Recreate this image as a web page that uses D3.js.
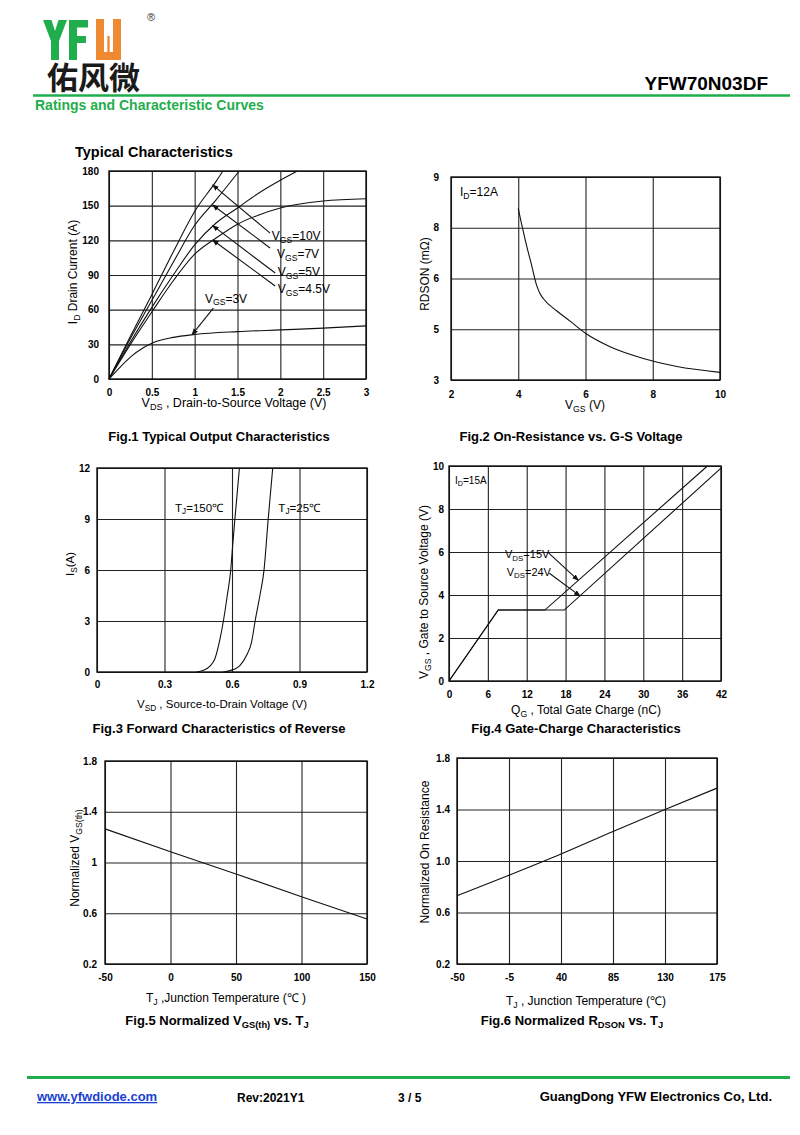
<!DOCTYPE html>
<html>
<head>
<meta charset="utf-8">
<script src="https://cdn.jsdelivr.net/npm/d3@7"></script>
<style>
  body { margin: 0; background: #fff; }
  svg { display: block; font-family: "Liberation Sans", Arial, sans-serif; }
</style>
</head>
<body>
<svg id="page" width="800" height="1135"></svg>
<script>
// Fig.1 output characteristics, [Vds (V), Id (A)]
const out10V = [[0,0],[0.25,37],[0.5,73],[0.75,110],[1.0,145],[1.25,171],[1.33,180]];
const out7V = [[0,0],[0.25,35],[0.5,68],[0.75,101],[1.0,133],[1.25,155],[1.52,180]];
const out5V = [[0,0],[0.25,32],[0.5,62],[0.75,90],[1.0,116],[1.25,135],[1.5,148],[1.75,161],[2.0,172],[2.2,180]];
const out45V = [[0,0],[0.25,30],[0.5,58],[0.75,85],[1.0,108],[1.25,122],[1.5,134],[1.75,142],[2.0,148],[2.5,154],[3.0,156]];
const out3V = [[0,0],[0.1,8],[0.25,19],[0.4,27],[0.5,31],[0.75,36],[1.0,38.5],[1.5,41],[2.0,42.5],[2.5,44],[3.0,46]];
const outTicksX = [0, 0.5, 1, 1.5, 2, 2.5, 3];
const outTicksY = [0, 30, 60, 90, 120, 150, 180];

// Fig.2 on-resistance vs Vgs (y axis in the sheet is not linear: 3,5,6,8,9 evenly spaced)
const rdsVgs = [4, 4.1, 4.25, 4.4, 4.55, 4.65, 4.75, 5.15, 5.54, 6.01, 6.73, 7.72, 8.72, 10];
const rdsVal = [8.38, 8.07, 7.29, 6.51, 5.86, 5.7, 5.6, 5.36, 5.16, 4.83, 4.31, 3.85, 3.53, 3.3];
const rdsTicksX = [2, 4, 6, 8, 10];
const rdsTicksY = [3, 5, 6, 8, 9];

// Fig.3 body diode forward, [Vsd (V), Is (A)]
const rev150 = [[0.443,0],[0.473,0.1],[0.502,0.35],[0.524,0.78],[0.547,1.96],[0.561,2.94],[0.579,4.5],[0.594,5.96],[0.603,7.45],[0.613,9.02],[0.633,12]];
const rev25 = [[0.561,0],[0.606,0.14],[0.636,0.39],[0.665,0.98],[0.687,1.76],[0.702,2.94],[0.724,4.5],[0.742,5.96],[0.761,9.02],[0.781,12]];
const revTicksX = [0, 0.3, 0.6, 0.9, 1.2];
const revTicksY = [0, 3, 6, 9, 12];

// Fig.4 gate charge, [Qg (nC), Vgs (V)]
const gate15V = [[0,0],[7.6,3.3],[14.8,3.3],[39.9,10]];
const gate24V = [[0,0],[7.6,3.3],[17.8,3.3],[42,9.9]];
const gateTicksX = [0, 6, 12, 18, 24, 30, 36, 42];
const gateTicksY = [0, 2, 4, 6, 8, 10];

// Fig.5 normalized Vgs(th)
const vthTemp = [-50, 0, 50, 100, 150];
const vthNorm = [1.265, 1.085, 0.91, 0.73, 0.555];
const vthTicksX = [-50, 0, 50, 100, 150];
const vthTicksY = [0.2, 0.6, 1, 1.4, 1.8];

// Fig.6 normalized Rds(on)
const ronTemp = [-50, -5, 40, 85, 130, 175];
const ronNorm = [0.73, 0.89, 1.055, 1.23, 1.4, 1.566];
const ronTicksX = [-50, -5, 40, 85, 130, 175];
const ronTicksY = [0.2, 0.6, 1.0, 1.4, 1.8];

const GREEN = "#1fae4b", ORANGE = "#f08a32", INK = "#111";
const svg = d3.select("#page");

const defs = svg.append("defs");
defs.append("marker")
  .attr("id", "ah")
  .attr("viewBox", "0 0 10 10")
  .attr("refX", 9)
  .attr("refY", 5)
  .attr("markerWidth", 6)
  .attr("markerHeight", 6)
  .attr("orient", "auto")
  .append("path")
  .attr("d", "M0,1L10,5L0,9z")
  .attr("fill", INK);

// text with optional subscripts: parts are strings or [subscript]
function rich(g, parts, x, y, fs, opts = {}) {
  const t = g.append("text")
    .attr("x", x)
    .attr("y", y)
    .attr("font-size", fs)
    .attr("text-anchor", opts.anchor || "middle")
    .attr("font-weight", opts.weight || "normal")
    .attr("fill", opts.fill || "#000");
  if (opts.rotate) t.attr("transform", `rotate(-90,${x},${y})`);
  let shifted = 0;
  parts.forEach((p) => {
    const sub = Array.isArray(p);
    const s = t.append("tspan").text(sub ? p[0] : p);
    const want = sub ? fs * 0.22 : 0;
    if (want !== shifted) {
      s.attr("dy", want - shifted);
      shifted = want;
    }
    if (sub) s.attr("font-size", fs * 0.72);
  });
  return t;
}

function panel(cfg) {
  const [left, right, top, bottom] = cfg.box;
  const w = right - left, h = bottom - top;
  const x = d3.scaleLinear().domain(cfg.xDom).range([left, right]);
  const yRange = cfg.yRange || [bottom, top];
  const y = d3.scaleLinear().domain(cfg.yDom).range(yRange);
  const g = svg.append("g");

  g.append("g")
    .attr("transform", `translate(0,${bottom})`)
    .call(d3.axisBottom(x).tickValues(cfg.xTicks).tickSize(-h).tickPadding(cfg.xPad || 9).tickFormat(cfg.xFmt || ((d) => d)))
    .call(styleAxis);
  g.append("g")
    .attr("transform", `translate(${left},0)`)
    .call(d3.axisLeft(y).tickValues(cfg.yTicks).tickSize(-w).tickPadding(cfg.yPad || 8).tickFormat(cfg.yFmt || ((d) => d)))
    .call(styleAxis);

  g.append("rect")
    .attr("x", left)
    .attr("y", top)
    .attr("width", w)
    .attr("height", h)
    .attr("fill", "none")
    .attr("stroke", INK)
    .attr("stroke-width", 1.4);

  const line = d3.line()
    .x((d) => x(d[0]))
    .y((d) => y(d[1]))
    .curve(cfg.curve || d3.curveMonotoneX);
  cfg.series.forEach((s) => {
    g.append("path")
      .attr("d", line(s))
      .attr("fill", "none")
      .attr("stroke", INK)
      .attr("stroke-width", 1.1);
  });
  return { g, x, y };
}

function styleAxis(a) {
  a.attr("font-family", null).attr("font-size", null);
  a.select(".domain").remove();
  a.selectAll(".tick line").attr("stroke", "#222").attr("stroke-width", 1.1);
  a.selectAll(".tick text")
    .attr("font-size", 10)
    .attr("font-weight", "bold")
    .attr("fill", "#000");
}

function arrow(p, from, to) {
  p.g.append("line")
    .attr("x1", p.x(from[0]))
    .attr("y1", p.y(from[1]))
    .attr("x2", p.x(to[0]))
    .attr("y2", p.y(to[1]))
    .attr("stroke", INK)
    .attr("stroke-width", 1.1)
    .attr("marker-end", "url(#ah)");
}

// ---------- header ----------
// logo glyphs drawn as shapes: green Y and F, orange W mark
const logo = svg.append("g");
logo.append("path")
  .attr("d", "M43,20L51.5,20L55,31L58.5,20L67,20L59,41L59,60L51,60L51,41Z")
  .attr("fill", GREEN);
logo.append("path")
  .attr("d", "M69,20L88,20L88,27.5L77,27.5L77,36L86,36L86,43L77,43L77,60L69,60Z")
  .attr("fill", GREEN);
[[96, 19, 8, 41], [113, 19, 8, 41], [96, 52, 25, 8], [107.3, 36, 2.4, 17]].forEach((r) =>
  logo.append("rect").attr("x", r[0]).attr("y", r[1]).attr("width", r[2]).attr("height", r[3]).attr("fill", ORANGE)
);
svg.append("text").attr("x", 147).attr("y", 21).attr("font-size", 11).attr("fill", "#333").text("®");
svg.append("text")
  .attr("x", 47)
  .attr("y", 89)
  .attr("font-size", 31)
  .attr("font-weight", "bold")
  .attr("font-family", "'Noto Sans CJK SC', sans-serif")
  .attr("fill", "#1a1a1a")
  .text("佑风微");
svg.append("text")
  .attr("x", 768)
  .attr("y", 90)
  .attr("text-anchor", "end")
  .attr("font-size", 19)
  .attr("font-weight", "bold")
  .text("YFW70N03DF");
svg.append("line").attr("x1", 33).attr("x2", 790).attr("y1", 95.5).attr("y2", 95.5).attr("stroke", GREEN).attr("stroke-width", 2.5);
svg.append("text")
  .attr("x", 35)
  .attr("y", 110)
  .attr("font-size", 14)
  .attr("font-weight", "bold")
  .attr("fill", GREEN)
  .text("Ratings and Characteristic Curves");
svg.append("text")
  .attr("x", 75)
  .attr("y", 157)
  .attr("font-size", 14.5)
  .attr("font-weight", "bold")
  .text("Typical Characteristics");

// ---------- Fig.1 ----------
const f1 = panel({
  box: [109, 366, 171, 379],
  xDom: [0, 3], yDom: [0, 180],
  xTicks: outTicksX, yTicks: outTicksY,
  xPad: 10, yPad: 10,
  series: [out10V, out7V, out5V, out45V, out3V],
});
[
  ["10V", [1.90, 123.7], [1.88, 126.3], [1.21, 168]],
  ["7V", [1.96, 108.2], [1.88, 113.4], [1.21, 150.6]],
  ["5V", [1.97, 92.5], [1.94, 91.7], [1.21, 132.7]],
  ["4.5V", [1.97, 78], [1.94, 80.5], [1.21, 120.3]],
].forEach(([v, lab, from, tip]) => {
  rich(f1.g, ["V", ["GS"], "=" + v], f1.x(lab[0]), f1.y(lab[1]) + 4, 12, { anchor: "start" });
  arrow(f1, from, tip);
});
rich(f1.g, ["V", ["GS"], "=3V"], f1.x(1.12), f1.y(69.5) + 4, 12, { anchor: "start" });
arrow(f1, [1.218, 61.4], [0.97, 38.4]);
rich(svg, ["I", ["D"], " Drain Current (A)"], 77, 272, 12, { rotate: true });
rich(svg, ["V", ["DS"], " , Drain-to-Source Voltage (V)"], 234, 407, 12.5);
svg.append("text").attr("x", 219).attr("y", 441).attr("text-anchor", "middle").attr("font-size", 13).attr("font-weight", "bold").text("Fig.1 Typical Output Characteristics");

// ---------- Fig.2 ----------
const f2Box = [451, 720, 177, 380];
const f2 = panel({
  box: f2Box,
  xDom: [2, 10],
  yDom: rdsTicksY,
  yRange: rdsTicksY.map((d, i) => f2Box[3] - (i * (f2Box[3] - f2Box[2])) / (rdsTicksY.length - 1)),
  xTicks: rdsTicksX, yTicks: rdsTicksY,
  xPad: 11, yPad: 12,
  series: [rdsVgs.map((v, i) => [v, rdsVal[i]])],
});
rich(f2.g, ["I", ["D"], "=12A"], 460, 196, 12, { anchor: "start" });
rich(svg, ["RDSON (mΩ)"], 429, 274, 12, { rotate: true });
rich(svg, ["V", ["GS"], " (V)"], 585, 409, 12);
svg.append("text").attr("x", 571).attr("y", 441).attr("text-anchor", "middle").attr("font-size", 13).attr("font-weight", "bold").text("Fig.2 On-Resistance vs. G-S Voltage");

// ---------- Fig.3 ----------
const f3 = panel({
  box: [97, 367, 468, 672],
  xDom: [0, 1.2], yDom: [0, 12],
  xTicks: revTicksX, yTicks: revTicksY,
  xFmt: (d) => (d === 0 ? "0" : d3.format(".1f")(d)),
  xPad: 9, yPad: 7,
  series: [rev150, rev25],
});
rich(f3.g, ["T", ["J"], "=150℃"], f3.x(0.347), f3.y(9.65) + 4, 11.5, { anchor: "start" });
rich(f3.g, ["T", ["J"], "=25℃"], f3.x(0.806), f3.y(9.65) + 4, 11.5, { anchor: "start" });
rich(svg, ["I", ["S"], "(A)"], 74, 564, 11.5, { rotate: true });
rich(svg, ["V", ["SD"], " , Source-to-Drain Voltage (V)"], 222, 708, 11.5);
svg.append("text").attr("x", 219).attr("y", 733).attr("text-anchor", "middle").attr("font-size", 13).attr("font-weight", "bold").text("Fig.3 Forward Characteristics of Reverse");

// ---------- Fig.4 ----------
const f4 = panel({
  box: [449, 721, 466, 681],
  xDom: [0, 42], yDom: [0, 10],
  xTicks: gateTicksX, yTicks: gateTicksY,
  xPad: 10, yPad: 5,
  curve: d3.curveLinear,
  series: [gate15V, gate24V],
});
rich(f4.g, ["I", ["D"], "=15A"], 455, 484, 10, { anchor: "start" });
rich(f4.g, ["V", ["DS"], "=15V"], f4.x(8.65), f4.y(5.9) + 4, 11, { anchor: "start" });
rich(f4.g, ["V", ["DS"], "=24V"], f4.x(8.9), f4.y(5.07) + 4, 11, { anchor: "start" });
arrow(f4, [15.33, 5.97], [19.97, 4.68]);
arrow(f4, [15.49, 5.01], [20.23, 3.96]);
rich(svg, ["V", ["GS"], " , Gate to Source Voltage (V)"], 428, 592, 12, { rotate: true });
rich(svg, ["Q", ["G"], " , Total Gate Charge (nC)"], 586, 714, 12);
svg.append("text").attr("x", 576).attr("y", 733).attr("text-anchor", "middle").attr("font-size", 13).attr("font-weight", "bold").text("Fig.4 Gate-Charge Characteristics");

// ---------- Fig.5 ----------
const f5 = panel({
  box: [105, 367, 761, 964],
  xDom: [-50, 150], yDom: [0.2, 1.8],
  xTicks: vthTicksX, yTicks: vthTicksY,
  xPad: 10, yPad: 8,
  curve: d3.curveLinear,
  series: [vthTemp.map((t, i) => [t, vthNorm[i]])],
});
rich(svg, ["Normalized V", ["GS(th)"]], 79, 858, 12, { rotate: true });
rich(svg, ["T", ["J"], " ,Junction Temperature (℃ )"], 226, 1002, 12);
rich(svg, ["Fig.5 Normalized V", ["GS(th)"], " vs. T", ["J"]], 217, 1025, 13, { weight: "bold" });

// ---------- Fig.6 ----------
const f6 = panel({
  box: [457, 717, 758, 964],
  xDom: [-50, 175], yDom: [0.2, 1.8],
  xTicks: ronTicksX, yTicks: ronTicksY,
  yFmt: d3.format(".1f"),
  xPad: 10, yPad: 7,
  series: [ronTemp.map((t, i) => [t, ronNorm[i]])],
});
rich(svg, ["Normalized On Resistance"], 429, 852, 12, { rotate: true });
rich(svg, ["T", ["J"], " , Junction Temperature (℃)"], 586, 1005, 12);
rich(svg, ["Fig.6 Normalized R", ["DSON"], " vs. T", ["J"]], 572, 1025, 13, { weight: "bold" });

// ---------- footer ----------
svg.append("line").attr("x1", 27).attr("x2", 790).attr("y1", 1077.5).attr("y2", 1077.5).attr("stroke", GREEN).attr("stroke-width", 3);
svg.append("text")
  .attr("x", 37)
  .attr("y", 1101)
  .attr("font-size", 13)
  .attr("font-weight", "bold")
  .attr("fill", "#1a3fd0")
  .attr("text-decoration", "underline")
  .text("www.yfwdiode.com");
svg.append("text").attr("x", 237).attr("y", 1102).attr("font-size", 12).attr("font-weight", "bold").text("Rev:2021Y1");
svg.append("text").attr("x", 398).attr("y", 1102).attr("font-size", 12).attr("font-weight", "bold").text("3 / 5");
svg.append("text").attr("x", 772).attr("y", 1101).attr("text-anchor", "end").attr("font-size", 13).attr("font-weight", "bold").text("GuangDong YFW Electronics Co, Ltd.");
</script>
</body>
</html>
